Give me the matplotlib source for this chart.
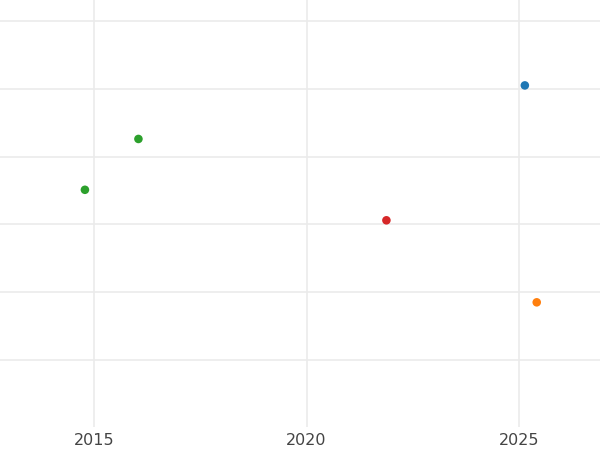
import matplotlib
matplotlib.use("Agg")
import matplotlib.pyplot as plt

# points (y has no labels, so arbitrary units)
years = [2014.78, 2016.04, 2021.88, 2025.14, 2025.42]
values = [2.51, 3.26, 2.06, 4.05, 0.85]
colors = ["#2ca02c", "#2ca02c", "#d62728", "#1f77b4", "#ff7f0e"]

xticks = [2015, 2020, 2025]
yticks = [0, 1, 2, 3, 4, 5]

fig = plt.figure(figsize=(6, 4.5), dpi=100)
ax = fig.add_axes([0, 0.051, 1, 0.949])

ax.scatter(years, values, c=colors, s=38, zorder=3, linewidths=0)

ax.set_xlim(2012.78, 2026.91)
ax.set_ylim(-0.99, 5.31)
ax.set_xticks(xticks)
ax.set_xticklabels([str(t) for t in xticks])
ax.set_yticks(yticks)
ax.set_yticklabels([])
ax.tick_params(length=0, labelsize=11.5, labelcolor="#444444", pad=4)
ax.grid(True, color="#ebebeb", linewidth=1.2)
ax.set_axisbelow(True)
for s in ax.spines.values():
    s.set_visible(False)

fig.savefig("out.png", dpi=100)
